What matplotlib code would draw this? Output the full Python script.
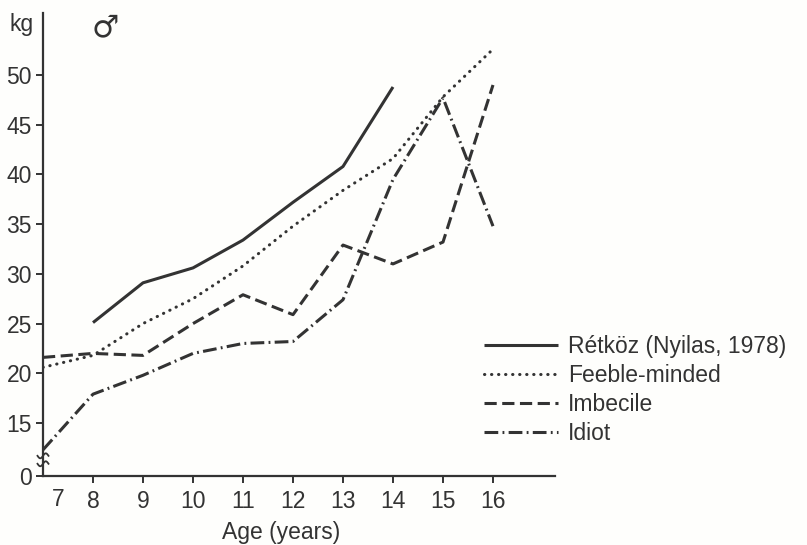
import numpy as np
import matplotlib
matplotlib.use("Agg")
import matplotlib.pyplot as plt

plt.rcParams['font.family'] = ['Liberation Sans', 'DejaVu Sans']

# data
ages = [7, 8, 9, 10, 11, 12, 13, 14, 15, 16]
retkoz_ages = [8, 9, 10, 11, 12, 13, 14]
retkoz = [25.1, 29.1, 30.6, 33.4, 37.2, 40.8, 48.8]
feeble = [20.6, 21.8, 25.0, 27.5, 30.8, 34.8, 38.4, 41.6, 47.8, 52.6]
imbecile = [21.6, 22.0, 21.8, 25.0, 27.9, 25.9, 32.9, 31.0, 33.2, 49.0]
idiot = [12.3, 17.9, 19.8, 22.0, 23.0, 23.2, 27.4, 39.5, 47.7, 34.8]

labels = ["Rétköz (Nyilas, 1978)", "Feeble-minded", "Imbecile", "Idiot"]
ytick_vals = [15, 20, 25, 30, 35, 40, 45, 50]
y_zero = 9.67  # where "0" sits after the axis break

col = '#333333'
fs = 16.5
fig = plt.figure(figsize=(8.07, 5.45), dpi=100, facecolor='#fefefc')
ax = fig.add_axes([43/807, 1-476/545, (555-43)/807, (476-13)/545])
ax.set_facecolor('none')

lw = 2.2
ax.plot(retkoz_ages, retkoz, color=col, lw=lw, solid_capstyle='butt', label=labels[0])
ax.plot(ages, feeble, color=col, lw=lw, linestyle=(0, (0.1, 2.2)),
        dash_capstyle='round', label=labels[1])
ax.plot(ages, imbecile, color=col, lw=lw, linestyle=(0, (4.0, 1.8)), label=labels[2])
ax.plot(ages, idiot, color=col, lw=lw, linestyle=(0, (4.5, 1.4, 0.6, 1.4)), label=labels[3])

ax.set_xlim(7, 17.24)
ax.set_ylim(y_zero, 56.24)

for s in ['top', 'right']:
    ax.spines[s].set_visible(False)
for s in ['left', 'bottom']:
    ax.spines[s].set_linewidth(1.6)
    ax.spines[s].set_color(col)

ax.set_xticks(ages[1:])
ax.set_xticklabels([str(a) for a in ages[1:]])
ax.text(7.3, -0.025, "7", transform=ax.get_xaxis_transform(), ha='center', va='top',
        fontsize=fs, color=col)
ax.set_yticks([y_zero] + ytick_vals)
ax.set_yticklabels(["0"] + [str(v) for v in ytick_vals])
ax.tick_params(axis='both', colors=col, labelsize=fs, width=1.4, length=5)
ax.tick_params(axis='x', pad=5)
ax.tick_params(axis='y', pad=3)

# axis break marks
t = np.linspace(-1, 1, 30)
for yb in [10.9, 11.7]:
    ax.plot(7 + 0.11 * t, yb + 0.25 * np.sin(np.pi * t), color=col, lw=1.3, clip_on=False)

ax.set_xlabel("Age (years)", fontsize=fs, color=col)
ax.xaxis.set_label_coords((281 - 43) / 512, -0.098)
fig.text(22/807, 1-24/545, "kg", fontsize=fs, color=col, ha='center', va='center')
fig.text(105/807, 1-28/545, "\u2642", fontsize=22, color=col, ha='center', va='center',
         family='DejaVu Sans')

leg = ax.legend(loc='upper left', bbox_to_anchor=(475/807, 1-326/545),
                bbox_transform=fig.transFigure, frameon=False, fontsize=fs,
                handlelength=3.2, handletextpad=0.45, labelspacing=0.26,
                labelcolor=col, borderaxespad=0)

fig.savefig("out.png", dpi=100, facecolor=fig.get_facecolor())
